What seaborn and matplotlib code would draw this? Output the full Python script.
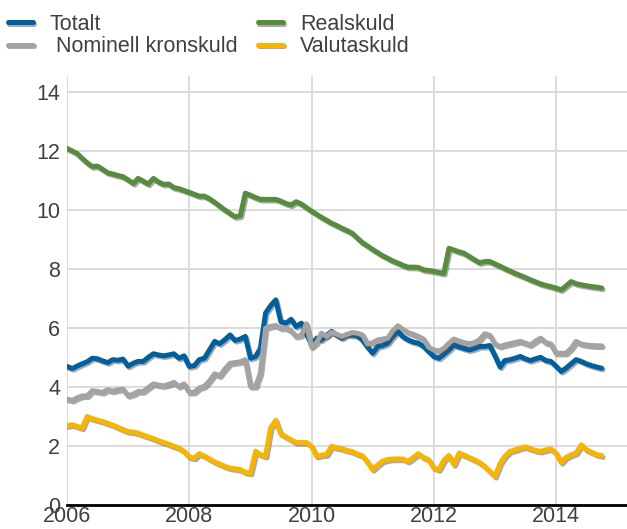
import pandas as pd
import matplotlib
matplotlib.use('Agg')
import matplotlib.pyplot as plt
import matplotlib.dates as mdates
import matplotlib.patheffects as pe
import seaborn as sns

dates = pd.date_range('2006-01-01', periods=106, freq='MS')

totalt = [
    4.69, 4.62, 4.70, 4.78, 4.85, 4.97, 4.95, 4.88, 4.82, 4.92, 4.90, 4.94,
    4.70, 4.80, 4.86, 4.86, 5.00, 5.12, 5.08, 5.05, 5.08, 5.12, 4.97, 5.05,
    4.69, 4.72, 4.92, 4.97, 5.25, 5.54, 5.46, 5.60, 5.76, 5.57, 5.62, 5.71,
    4.97, 5.03, 5.30, 6.50, 6.75, 6.95, 6.21, 6.16, 6.29, 6.04, 6.16, 5.80,
    5.42, 5.65, 5.59, 5.75, 5.88, 5.75, 5.65, 5.76, 5.75, 5.73, 5.59, 5.35,
    5.14, 5.37, 5.40, 5.48, 5.70, 5.88, 5.70, 5.59, 5.52, 5.48, 5.37, 5.20,
    5.03, 4.97, 5.10, 5.25, 5.42, 5.35, 5.30, 5.25, 5.30, 5.37, 5.37, 5.40,
    5.05, 4.67, 4.89, 4.92, 4.97, 5.03, 4.95, 4.89, 4.95, 5.00, 4.89, 4.86,
    4.70, 4.52, 4.63, 4.78, 4.92, 4.86, 4.78, 4.72, 4.67, 4.63,
]

nominell = [
    3.58, 3.54, 3.62, 3.69, 3.69, 3.87, 3.84, 3.81, 3.90, 3.85, 3.90, 3.92,
    3.70, 3.75, 3.84, 3.84, 3.97, 4.10, 4.06, 4.03, 4.08, 4.15, 4.01, 4.10,
    3.81, 3.82, 3.96, 4.02, 4.20, 4.44, 4.37, 4.60, 4.80, 4.82, 4.85, 4.92,
    4.01, 4.01, 4.46, 5.99, 6.05, 6.08, 5.99, 5.99, 5.90, 5.71, 5.75, 6.14,
    5.35, 5.50, 5.82, 5.71, 5.85, 5.78, 5.71, 5.78, 5.84, 5.82, 5.76, 5.45,
    5.50, 5.59, 5.62, 5.65, 5.90, 6.07, 5.95, 5.84, 5.78, 5.71, 5.62, 5.35,
    5.25, 5.22, 5.30, 5.48, 5.62, 5.55, 5.50, 5.46, 5.50, 5.60, 5.80, 5.75,
    5.45, 5.37, 5.42, 5.46, 5.50, 5.54, 5.48, 5.42, 5.55, 5.65, 5.50, 5.45,
    5.14, 5.14, 5.14, 5.30, 5.54, 5.45, 5.42, 5.40, 5.39, 5.39,
]

realskuld = [
    12.09, 12.00, 11.92, 11.75, 11.60, 11.47, 11.49, 11.38, 11.26, 11.22, 11.17, 11.13,
    11.02, 10.90, 11.07, 10.98, 10.88, 11.07, 10.95, 10.87, 10.88, 10.76, 10.72, 10.66,
    10.60, 10.53, 10.47, 10.47, 10.38, 10.26, 10.13, 10.00, 9.88, 9.77, 9.80, 10.57,
    10.50, 10.42, 10.36, 10.36, 10.36, 10.36, 10.30, 10.22, 10.17, 10.28, 10.20, 10.08,
    9.96, 9.85, 9.75, 9.65, 9.55, 9.47, 9.38, 9.30, 9.21, 9.05, 8.89, 8.78,
    8.66, 8.55, 8.45, 8.36, 8.27, 8.20, 8.12, 8.06, 8.06, 8.05, 7.97, 7.95,
    7.92, 7.88, 7.85, 8.70, 8.64, 8.58, 8.53, 8.42, 8.31, 8.21, 8.25, 8.25,
    8.17, 8.09, 8.01, 7.93, 7.85, 7.78, 7.71, 7.63, 7.56, 7.49, 7.44, 7.40,
    7.35, 7.29, 7.42, 7.57, 7.50, 7.46, 7.43, 7.40, 7.38, 7.35,
]

valuta = [
    2.68, 2.71, 2.66, 2.60, 2.99, 2.92, 2.87, 2.82, 2.76, 2.70, 2.62, 2.55,
    2.48, 2.46, 2.43, 2.36, 2.30, 2.24, 2.17, 2.11, 2.05, 1.98, 1.92, 1.81,
    1.62, 1.58, 1.73, 1.65, 1.55, 1.45, 1.38, 1.30, 1.24, 1.22, 1.19, 1.10,
    1.07, 1.81, 1.70, 1.64, 2.60, 2.86, 2.40, 2.30, 2.20, 2.11, 2.11, 2.11,
    1.98, 1.64, 1.68, 1.70, 1.98, 1.93, 1.90, 1.84, 1.80, 1.72, 1.66, 1.45,
    1.19, 1.35, 1.48, 1.53, 1.55, 1.55, 1.55, 1.47, 1.60, 1.73, 1.60, 1.53,
    1.25, 1.19, 1.50, 1.67, 1.36, 1.75, 1.68, 1.60, 1.52, 1.43, 1.30, 1.13,
    0.96, 1.40, 1.64, 1.81, 1.86, 1.92, 1.96, 1.90, 1.84, 1.81, 1.86, 1.89,
    1.75, 1.43, 1.60, 1.69, 1.75, 2.03, 1.86, 1.78, 1.70, 1.66,
]

labels = ['Totalt', ' Nominell kronskuld', 'Realskuld', 'Valutaskuld']
colors = ['#005f9e', '#a3a3a3', '#578b3e', '#f7b500']
year_ticks = [2006, 2008, 2010, 2012, 2014]
y_ticks = [0, 2, 4, 6, 8, 10, 12, 14]


def main():
    sns.set_theme(style='whitegrid')
    plt.rcParams['font.family'] = ['Liberation Sans', 'DejaVu Sans']

    df = pd.DataFrame({'date': dates, labels[0]: totalt, labels[1]: nominell,
                       labels[2]: realskuld, labels[3]: valuta})
    long_df = df.melt(id_vars='date', var_name='serie', value_name='value')

    fig = plt.figure(figsize=(6.27, 5.29), dpi=100)
    ax = fig.add_axes([0.107, 0.046, 0.893, 0.81])

    sns.lineplot(data=long_df, x='date', y='value', hue='serie',
                 hue_order=labels, palette=colors, linewidth=3.6,
                 ax=ax, legend=False)

    shadow = [pe.SimpleLineShadow(offset=(1, -1.2), shadow_color='#555555', alpha=0.5),
              pe.Normal()]
    for line in ax.get_lines():
        line.set_path_effects(shadow)
        line.set_solid_joinstyle('round')

    ax.set_xlim(pd.Timestamp('2006-01-01'), pd.Timestamp('2015-03-01'))
    ax.set_ylim(0, 14.54)
    ax.set_xticks([pd.Timestamp(f'{y}-01-01') for y in year_ticks])
    ax.xaxis.set_major_formatter(mdates.DateFormatter('%Y'))
    ax.set_yticks(y_ticks)
    ax.set_xlabel('')
    ax.set_ylabel('')

    ax.grid(True, color='#d9d9d9', linewidth=1.3)
    for side in ['top', 'right', 'left']:
        ax.spines[side].set_visible(False)
    ax.spines['bottom'].set_color('black')
    ax.spines['bottom'].set_linewidth(2)
    ax.tick_params(axis='both', length=0, labelsize=15.5, labelcolor='#404040')
    ax.tick_params(axis='x', pad=1)
    ax.tick_params(axis='y', pad=5)

    handles = ax.get_lines()[:4]
    fig.legend(handles=handles, labels=labels, ncol=2, loc='upper left',
               bbox_to_anchor=(8 / 627, 1 - 14 / 529), frameon=False, fontsize=15.5,
               labelcolor='#404040', handlelength=1.15, handletextpad=0.8,
               columnspacing=0.95, labelspacing=0.05, borderpad=0,
               borderaxespad=0)

    fig.savefig('out.png', dpi=100)
    plt.close(fig)


if __name__ == '__main__':
    main()
